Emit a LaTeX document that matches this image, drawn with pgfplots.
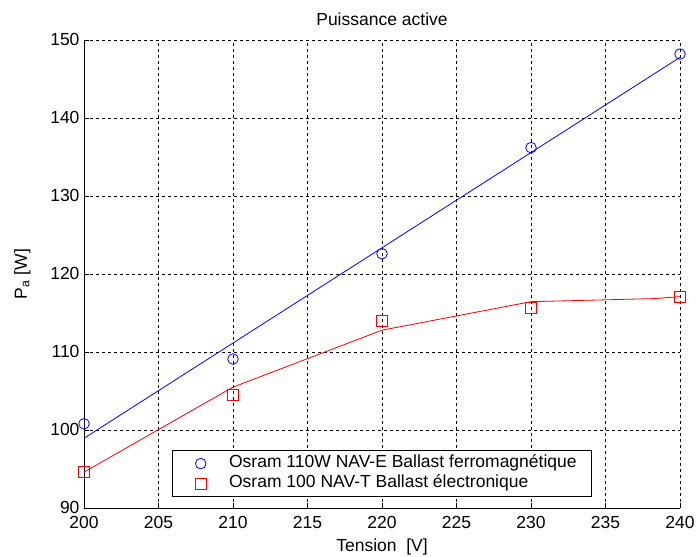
\documentclass[border=0pt]{standalone}
\usepackage{fontspec}
\setmainfont{Liberation Sans}
\usepackage{pgfplots}
\pgfplotsset{compat=1.18}
\newcommand\f{\fontsize{17.5bp}{20bp}\selectfont}
\begin{document}
\begin{tikzpicture}[font=\f]
\begin{axis}[
  at={(0,0)}, anchor=south west,
  scale only axis, width=596bp, height=468bp,
  xmin=200, xmax=240, ymin=90, ymax=150,
  xtick={200,205,...,240}, ytick={90,100,...,150},
  axis x line*=bottom, axis y line*=left,
  axis line style={black, line width=0.8bp},
  tick align=inside, major tick length=5bp,
  tick style={black, line width=0.8bp},
  grid=major,
  grid style={black, line width=0.8bp, dash pattern=on 3bp off 3bp},
  /pgf/number format/assume math mode=true,
  /pgf/number format/1000 sep={},
  xticklabel style={yshift=-4.5bp},
  yticklabel style={xshift=-1bp, yshift=1bp},
  title={Puissance active},
  title style={yshift=5bp},
  xlabel={Tension\ \ [V]},
  ylabel={P\textsubscript{a} [W]},
  xlabel style={yshift=-4bp},
  ylabel style={yshift=13bp},
  legend style={at={(0.5,0.0235)}, anchor=south, draw=black, fill=white,
    line width=0.8bp, cells={anchor=west}, inner xsep=15bp, inner ysep=5bp,
    row sep=4bp, font=\f,
    nodes={inner xsep=0bp, inner ysep=0bp, text height=12bp, text depth=4bp}},
  legend image code/.code={\path (0bp,0bp) (41bp,0bp); \draw[#1] plot coordinates {(13bp,0bp)};},
]
\addplot[blue, line width=0.8bp, forget plot] coordinates {(200,98.94) (240,147.78)};
\addplot[red, line width=0.8bp, forget plot] coordinates {(200,94.6) (210,105.5) (220,112.8) (230,116.45) (238.3,116.85) (240,117.1)};
\addplot[blue, only marks, mark=o, mark size=5.3bp, line width=0.8bp] coordinates {(200,100.8) (210,109.1) (220,122.6) (230,136.2) (240,148.2)};
\addplot[red, only marks, mark=square, mark size=5.5bp, line width=0.8bp] coordinates {(200,94.6) (210,104.5) (220,114.0) (230,115.7) (240,117.1)};
\legend{Osram 110W NAV-E Ballast ferromagnétique, Osram 100 NAV-T Ballast électronique}
\end{axis}
\pgfresetboundingbox
\path (-84bp,-49bp) rectangle (612bp,508bp);
\end{tikzpicture}
\end{document}
